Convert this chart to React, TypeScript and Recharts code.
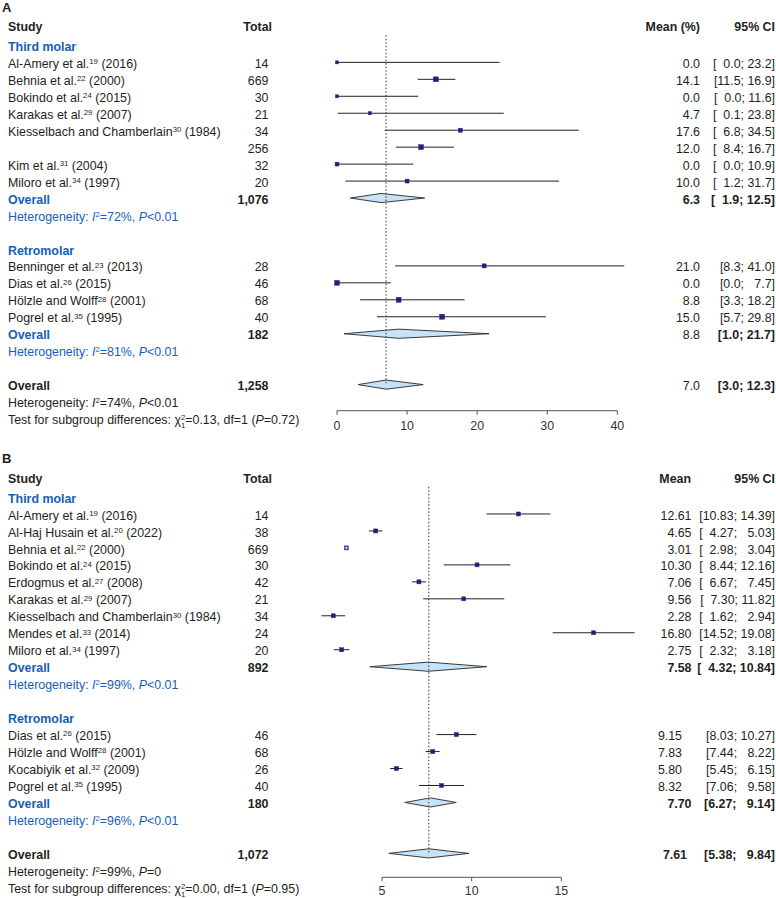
import React from 'react'
import { ComposedChart, Scatter, ErrorBar, XAxis, YAxis, ReferenceLine, ReferenceArea } from 'recharts'

const FONT = '"Liberation Sans", Arial, Helvetica, sans-serif'
const BLUE = '#1660b6'
const NAVY = '#1f1f76'
const INK = '#231f20'
const DIAMOND_FILL = '#c7e3f7'

// ---- Panel A: proportion (%) ----
const aThirdNames = ['Al-Amery et al.', 'Behnia et al.', 'Bokindo et al.', 'Karakas et al.', 'Kiesselbach and Chamberlain', '', 'Kim et al.', 'Miloro et al.']
const aThirdRefs = ['19', '22', '24', '29', '30', '', '31', '34']
const aThirdYears = ['2016', '2000', '2015', '2007', '1984', '', '2004', '1997']
const aThirdTotals = [14, 669, 30, 21, 34, 256, 32, 20]
const aThirdMeans = [0.0, 14.1, 0.0, 4.7, 17.6, 12.0, 0.0, 10.0]
const aThirdLower = [0.0, 11.5, 0.0, 0.1, 6.8, 8.4, 0.0, 1.2]
const aThirdUpper = [23.2, 16.9, 11.6, 23.8, 34.5, 16.7, 10.9, 31.7]
const aThirdWeights = [4.5, 11.5, 4.3, 4.6, 7.6, 11.2, 7.0, 7.4]

const aRetroNames = ['Benninger et al.', 'Dias et al.', 'Hölzle and Wolff', 'Pogrel et al.']
const aRetroRefs = ['23', '26', '28', '35']
const aRetroYears = ['2013', '2015', '2001', '1995']
const aRetroTotals = [28, 46, 68, 40]
const aRetroMeans = [21.0, 0.0, 8.8, 15.0]
const aRetroLower = [8.3, 0.0, 3.3, 5.7]
const aRetroUpper = [41.0, 7.7, 18.2, 29.8]
const aRetroWeights = [7.8, 11.0, 11.4, 11.7]

// subgroup / overall summaries: [total, mean, lower, upper]
const aThirdSummary = [1076, 6.3, 1.9, 12.5]
const aRetroSummary = [182, 8.8, 1.0, 21.7]
const aOverallSummary = [1258, 7.0, 3.0, 12.3]
const aHetI2 = ['72%', '81%', '74%']
const aHetP = ['<0.01', '<0.01', '<0.01']
const aTest = ['0.13', '0.72']
const aTicks = [0, 10, 20, 30, 40]

// ---- Panel B: mean ----
const bThirdNames = ['Al-Amery et al.', 'Al-Haj Husain et al.', 'Behnia et al.', 'Bokindo et al.', 'Erdogmus et al.', 'Karakas et al.', 'Kiesselbach and Chamberlain', 'Mendes et al.', 'Miloro et al.']
const bThirdRefs = ['19', '20', '22', '24', '27', '29', '30', '33', '34']
const bThirdYears = ['2016', '2022', '2000', '2015', '2008', '2007', '1984', '2014', '1997']
const bThirdTotals = [14, 38, 669, 30, 42, 21, 34, 24, 20]
const bThirdMeans = [12.61, 4.65, 3.01, 10.30, 7.06, 9.56, 2.28, 16.80, 2.75]
const bThirdLower = [10.83, 4.27, 2.98, 8.44, 6.67, 7.30, 1.62, 14.52, 2.32]
const bThirdUpper = [14.39, 5.03, 3.04, 12.16, 7.45, 11.82, 2.94, 19.08, 3.18]
const bThirdWeights = [7.6, 7.8, 7.9, 7.6, 7.8, 7.5, 7.7, 7.6, 7.8]

const bRetroNames = ['Dias et al.', 'Hölzle and Wolff', 'Kocabiyik et al.', 'Pogrel et al.']
const bRetroRefs = ['26', '28', '32', '35']
const bRetroYears = ['2015', '2001', '2009', '1995']
const bRetroTotals = [46, 68, 26, 40]
const bRetroMeans = [9.15, 7.83, 5.80, 8.32]
const bRetroLower = [8.03, 7.44, 5.45, 7.06]
const bRetroUpper = [10.27, 8.22, 6.15, 9.58]
const bRetroWeights = [7.7, 7.9, 7.9, 7.6]

const bThirdSummary = [892, 7.58, 4.32, 10.84]
const bRetroSummary = [180, 7.70, 6.27, 9.14]
const bOverallSummary = [1072, 7.61, 5.38, 9.84]
const bHetI2 = ['99%', '96%', '99%']
const bHetP = ['<0.01', '<0.01', '=0']
const bTest = ['0.00', '0.95']
const bTicks = [5, 10, 15]

type Study = { name: string; ref: string; year: string; total: number; mean: number; lo: number; hi: number; w: number }

function zip(names: string[], refs: string[], years: string[], totals: number[], means: number[], lo: number[], hi: number[], w: number[]): Study[] {
  return names.map((name, i) => ({ name, ref: refs[i], year: years[i], total: totals[i], mean: means[i], lo: lo[i], hi: hi[i], w: w[i] }))
}

const FS = 12.4
const SUP = 7.8
const SUP_DY = 3.8
const Y_MIN = -2.5

const panels = [
  {
    label: 'A', meanHeader: 'Mean (%)', meanHeaderX: 700, digits: 1, height: 440,
    row0: 45.4, rowH: 16.96, axisY: 410.7, domain: [-2, 42], ticks: aTicks, tickPx: [337, 617.3], tickMargin: 6,
    groups: [
      { title: 'Third molar', studies: zip(aThirdNames, aThirdRefs, aThirdYears, aThirdTotals, aThirdMeans, aThirdLower, aThirdUpper, aThirdWeights), sum: aThirdSummary, meanX: 700, sumMeanX: 700, sumMeanBold: true },
      { title: 'Retromolar', studies: zip(aRetroNames, aRetroRefs, aRetroYears, aRetroTotals, aRetroMeans, aRetroLower, aRetroUpper, aRetroWeights), sum: aRetroSummary, meanX: 700, sumMeanX: 700, sumMeanBold: false },
    ],
    overall: aOverallSummary, overallMeanX: 700, overallMeanBold: false,
    i2: aHetI2, p: aHetP, test: aTest,
  },
  {
    label: 'B', meanHeader: 'Mean', meanHeaderX: 691, digits: 2, height: 458,
    row0: 57, rowH: 16.97, axisY: 437.3, domain: [1, 20], ticks: bTicks, tickPx: [382, 561.3], tickMargin: 5,
    groups: [
      { title: 'Third molar', studies: zip(bThirdNames, bThirdRefs, bThirdYears, bThirdTotals, bThirdMeans, bThirdLower, bThirdUpper, bThirdWeights), sum: bThirdSummary, meanX: 691.5, sumMeanX: 691.5, sumMeanBold: true },
      { title: 'Retromolar', studies: zip(bRetroNames, bRetroRefs, bRetroYears, bRetroTotals, bRetroMeans, bRetroLower, bRetroUpper, bRetroWeights), sum: bRetroSummary, meanX: 682, sumMeanX: 691.5, sumMeanBold: true },
    ],
    overall: bOverallSummary, overallMeanX: 687, overallMeanBold: true,
    i2: bHetI2, p: bHetP, test: bTest,
  },
]

const FIG = '\u2007'

function ciText(lo: number, hi: number, d: number, wLo: number, wHi: number) {
  return '[' + lo.toFixed(d).padStart(wLo, FIG) + '; ' + hi.toFixed(d).padStart(wHi, FIG) + ']'
}

function Square(props: any) {
  const { cx, cy, payload } = props
  if (cx == null || cy == null) return null
  const s = Math.sqrt(payload.w) * 1.45
  return (
    <g>
      <rect x={cx - s / 2} y={cy - s / 2} width={s} height={s} fill={payload.inside ? '#3838a4' : NAVY} stroke={payload.inside ? '#3030a0' : '#2c2c8a'} strokeWidth={0.5} />
      {payload.inside && (
        <path d={`M${cx - s / 2 + 0.9},${cy}H${cx + s / 2 - 0.9}M${cx},${cy - s / 2 + 0.9}V${cy + s / 2 - 0.9}`} stroke="#fff" strokeWidth={0.9} />
      )}
    </g>
  )
}

function Diamond(props: any) {
  const { x, y, width, height, frac } = props
  const cx = x + width * frac
  const cy = y + height / 2
  return <path d={`M${x},${cy}L${cx},${y}L${x + width},${cy}L${cx},${y + height}Z`} fill={DIAMOND_FILL} stroke="#3a3a3a" strokeWidth={1} />
}

function Het({ x, y, i2, p, color }: { x: number; y: number; i2: string; p: string; color: string }) {
  return (
    <text x={x} y={y} fill={color} fontSize={FS} style={{ whiteSpace: 'pre' }}>
      Heterogeneity: <tspan fontStyle="italic">I</tspan>
      <tspan dy={-SUP_DY} fontSize={SUP}>2</tspan>
      <tspan dy={SUP_DY} fontSize={FS}>{'=' + i2 + ', '}</tspan>
      <tspan fontStyle="italic">P</tspan>
      <tspan>{p}</tspan>
    </text>
  )
}

function Panel({ cfg }: { cfg: (typeof panels)[number] }) {
  const { row0, rowH, axisY, domain, ticks, tickPx, height, digits } = cfg
  const yMax = (axisY - row0) / rowH
  const ppu = (tickPx[1] - tickPx[0]) / (ticks[ticks.length - 1] - ticks[0])
  const left = tickPx[0] - (ticks[0] - domain[0]) * ppu
  const right = 776 - (tickPx[1] + (domain[1] - ticks[ticks.length - 1]) * ppu)
  const top = row0 + Y_MIN * rowH
  const xAxisH = 20
  const bottom = height - axisY - xAxisH

  const ty = (k: number) => row0 + k * rowH + 5.6

  // row layout
  const points: any[] = []
  const diamonds: { row: number; mean: number; lo: number; hi: number }[] = []
  const texts: React.ReactNode[] = []
  let k = 0
  let wLo = 0
  let wHi = 0
  cfg.groups.forEach((g, gi) => {
    const all = [...g.studies.map((s) => [s.lo, s.hi]), [g.sum[2], g.sum[3]]]
    wLo = Math.max(...all.map((v) => v[0].toFixed(digits).length))
    wHi = Math.max(...all.map((v) => v[1].toFixed(digits).length))
    texts.push(<text key={`t${gi}`} x={8} y={ty(k)} fill={BLUE} fontWeight="bold" fontSize={FS}>{g.title}</text>)
    k++
    g.studies.forEach((s, si) => {
      points.push({ x: s.mean, y: k, err: [s.mean - s.lo, s.hi - s.mean], w: s.w, inside: s.hi - s.lo < 0.2 })
      texts.push(
        <g key={`s${gi}-${si}`}>
          {s.name && (
            <text x={8} y={ty(k)} fill={INK} fontSize={FS} style={{ whiteSpace: 'pre' }}>
              {s.name}
              <tspan dy={-SUP_DY} fontSize={SUP}>{s.ref}</tspan>
              <tspan dy={SUP_DY} fontSize={FS}>{' (' + s.year + ')'}</tspan>
            </text>
          )}
          <text x={268.5} y={ty(k)} textAnchor="end" fill={INK} fontSize={FS}>{s.total.toLocaleString('en-US')}</text>
          <text x={g.meanX} y={ty(k)} textAnchor="end" fill={INK} fontSize={FS}>{s.mean.toFixed(digits)}</text>
          <text x={775} y={ty(k)} textAnchor="end" fill={INK} fontSize={FS} style={{ whiteSpace: 'pre' }}>{ciText(s.lo, s.hi, digits, wLo, wHi)}</text>
        </g>
      )
      k++
    })
    diamonds.push({ row: k, mean: g.sum[1], lo: g.sum[2], hi: g.sum[3] })
    texts.push(
      <g key={`o${gi}`}>
        <text x={8} y={ty(k)} fill={BLUE} fontWeight="bold" fontSize={FS}>Overall</text>
        <text x={268.5} y={ty(k)} textAnchor="end" fill={INK} fontWeight="bold" fontSize={FS}>{g.sum[0].toLocaleString('en-US')}</text>
        <text x={g.sumMeanX} y={ty(k)} textAnchor="end" fill={INK} fontWeight={g.sumMeanBold ? 'bold' : 'normal'} fontSize={FS}>{g.sum[1].toFixed(digits)}</text>
        <text x={775} y={ty(k)} textAnchor="end" fill={INK} fontWeight="bold" fontSize={FS} style={{ whiteSpace: 'pre' }}>{ciText(g.sum[2], g.sum[3], digits, wLo, wHi)}</text>
      </g>
    )
    k++
    texts.push(<Het key={`h${gi}`} x={8} y={ty(k)} i2={cfg.i2[gi]} p={cfg.p[gi]} color={BLUE} />)
    k += 2
  })
  const o = cfg.overall
  const finalRow = k
  diamonds.push({ row: k, mean: o[1], lo: o[2], hi: o[3] })
  texts.push(
    <g key="final">
      <text x={8} y={ty(k)} fill={INK} fontWeight="bold" fontSize={FS}>Overall</text>
      <text x={268.5} y={ty(k)} textAnchor="end" fill={INK} fontWeight="bold" fontSize={FS}>{o[0].toLocaleString('en-US')}</text>
      <text x={cfg.overallMeanX} y={ty(k)} textAnchor="end" fill={INK} fontWeight={cfg.overallMeanBold ? 'bold' : 'normal'} fontSize={FS}>{o[1].toFixed(digits)}</text>
      <text x={775} y={ty(k)} textAnchor="end" fill={INK} fontWeight="bold" fontSize={FS} style={{ whiteSpace: 'pre' }}>{ciText(o[2], o[3], digits, Math.max(wLo, o[2].toFixed(digits).length), Math.max(wHi, o[3].toFixed(digits).length))}</text>
    </g>
  )
  k++
  texts.push(<Het key="hfinal" x={8} y={ty(k)} i2={cfg.i2[2]} p={cfg.p[2]} color={INK} />)
  k++
  texts.push(
    <text key="test" x={8} y={ty(k)} fill={INK} fontSize={FS} style={{ whiteSpace: 'pre' }}>
      {'Test for subgroup differences: χ'}
      <tspan dy={-SUP_DY - 0.5} fontSize={SUP}>2</tspan>
      <tspan dx={-4.4} dy={SUP_DY + 4.5} fontSize={SUP}>1</tspan>
      <tspan dy={-4} fontSize={FS}>{'=' + cfg.test[0] + ', df=1 ('}</tspan>
      <tspan fontStyle="italic">P</tspan>
      <tspan>{'=' + cfg.test[1] + ')'}</tspan>
    </text>
  )

  return (
    <div style={{ position: 'relative', width: 776, height }}>
      <ComposedChart width={776} height={height} margin={{ top, right, bottom, left }}>
        <XAxis
          type="number"
          dataKey="x"
          domain={domain}
          ticks={ticks}
          interval={0}
          axisLine={false}
          tickLine={{ stroke: '#555' }}
          tickSize={4}
          tickMargin={cfg.tickMargin}
          height={xAxisH}
          tick={{ fontSize: FS, fill: '#333', fontFamily: FONT }}
        />
        <YAxis type="number" dataKey="y" domain={[Y_MIN, yMax]} reversed hide width={0} />
        <ReferenceLine segment={[{ x: ticks[0], y: yMax }, { x: ticks[ticks.length - 1], y: yMax }]} stroke="#555" ifOverflow="visible" />
        {diamonds.map((d, i) => (
          <ReferenceArea
            key={i}
            x1={d.lo}
            x2={d.hi}
            y1={d.row - 0.27}
            y2={d.row + 0.27}
            ifOverflow="visible"
            shape={(p: any) => <Diamond {...p} frac={(d.mean - d.lo) / (d.hi - d.lo)} />}
          />
        ))}
        <ReferenceLine segment={[{ x: o[1], y: -0.6 }, { x: o[1], y: finalRow }]} stroke="#333" strokeDasharray="1.5 2" ifOverflow="visible" />
        <Scatter data={points} isAnimationActive={false} shape={(p: any) => <Square {...p} />}>
          <ErrorBar dataKey="err" direction="x" width={0} stroke="#222" strokeWidth={1} isAnimationActive={false} />
        </Scatter>
      </ComposedChart>
      <svg width={776} height={height} style={{ position: 'absolute', left: 0, top: 0, pointerEvents: 'none', fontFamily: FONT }}>
        <text x={2} y={cfg.label === 'A' ? 11.7 : 23.3} fill={INK} fontWeight="bold" fontSize={13}>{cfg.label}</text>
        <text x={8} y={ty(-1.18)} fill={INK} fontWeight="bold" fontSize={FS}>Study</text>
        <text x={272} y={ty(-1.18)} textAnchor="end" fill={INK} fontWeight="bold" fontSize={FS}>Total</text>
        <text x={cfg.meanHeaderX} y={ty(-1.18)} textAnchor="end" fill={INK} fontWeight="bold" fontSize={FS}>{cfg.meanHeader}</text>
        <text x={775} y={ty(-1.18)} textAnchor="end" fill={INK} fontWeight="bold" fontSize={FS}>95% CI</text>
        {texts}
      </svg>
    </div>
  )
}

export default function App() {
  return (
    <div style={{ width: 776, height: 898, background: '#fff', fontFamily: FONT }}>
      <style>{'body{margin:0}'}</style>
      {panels.map((p) => (
        <Panel key={p.label} cfg={p} />
      ))}
    </div>
  )
}
